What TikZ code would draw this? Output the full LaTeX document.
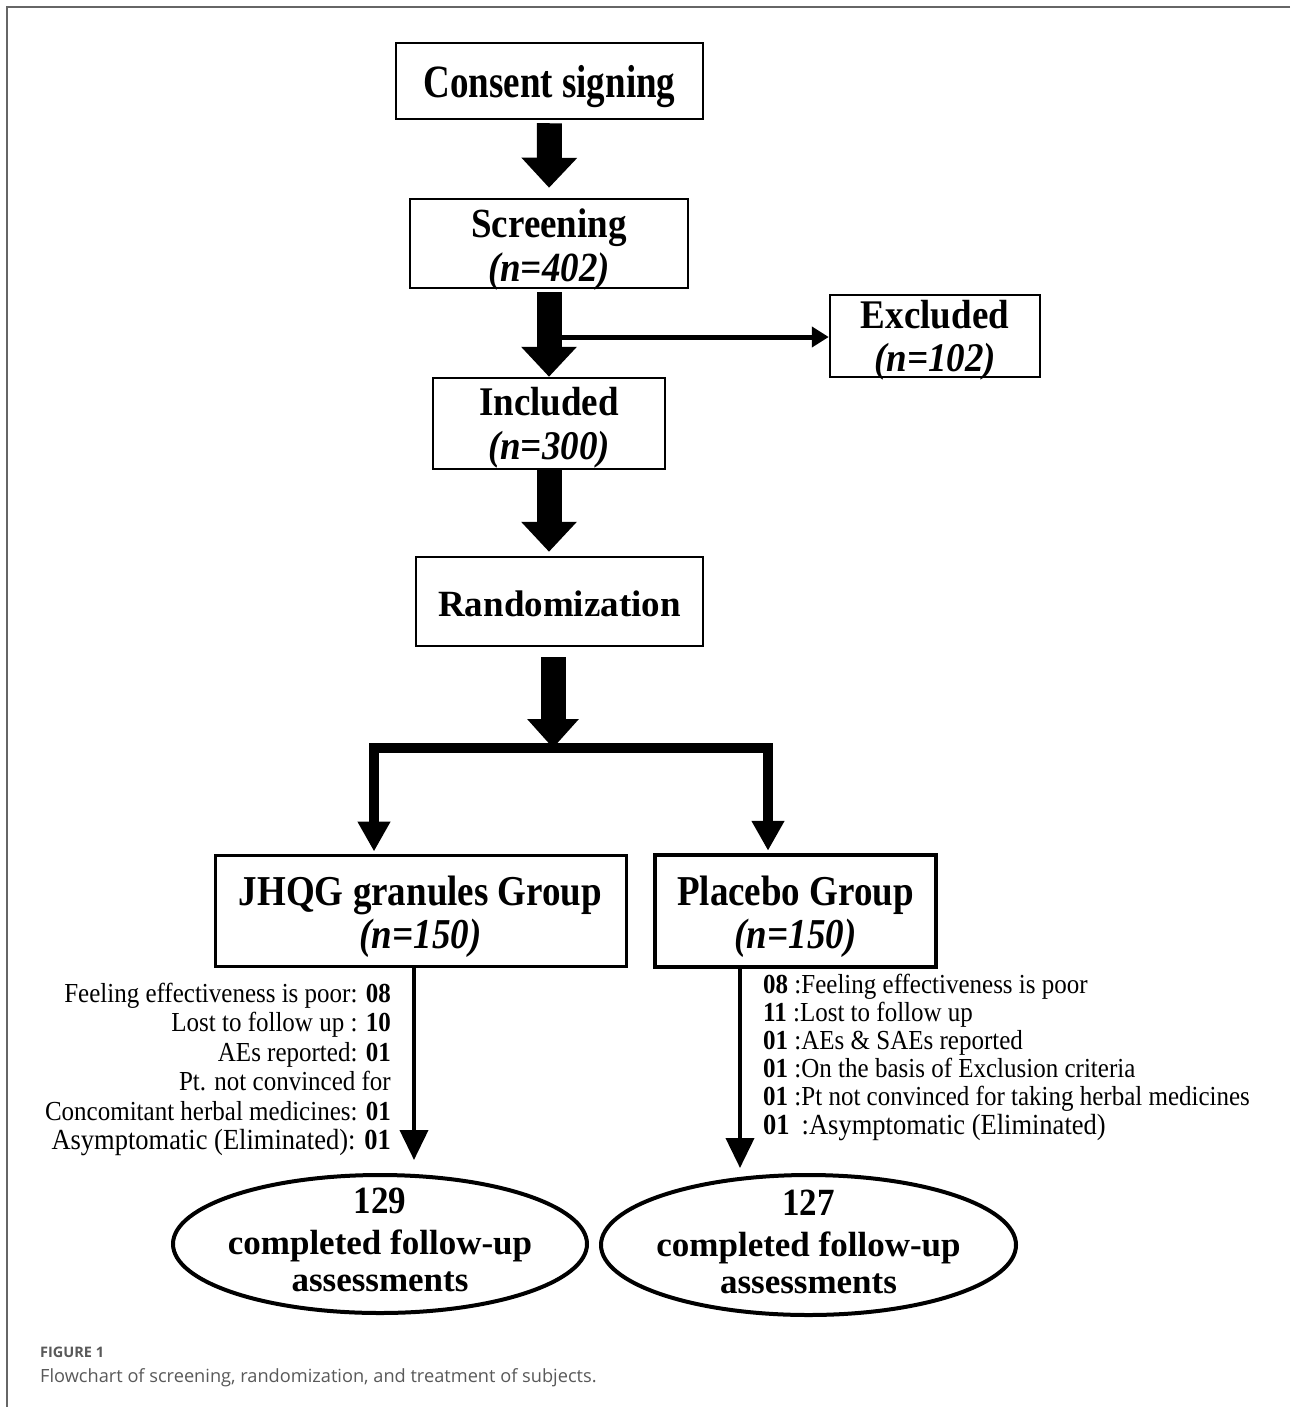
\documentclass[tikz,border=0pt]{standalone}
\usepackage{graphicx}
\usepackage{fontspec}
\setmainfont{Liberation Serif}
\newfontfamily\capfont{Open Sans}
\usetikzlibrary{arrows.meta,shapes.geometric,calc}
\newcommand{\vstretch}[2]{\scalebox{1}[#1]{#2}}
\begin{document}
\begin{tikzpicture}[x=1pt,y=-1pt,
  box/.style={draw, line width=2.5pt, inner sep=0pt},
  head/.style={anchor=base, inner sep=0pt, font=\fontsize{37}{44}\selectfont\bfseries},
  ntxt/.style={anchor=base, inner sep=0pt, font=\fontsize{37}{44}\selectfont\bfseries\itshape},
  etxt/.style={anchor=base, inner sep=0pt, font=\fontsize{35}{40}\selectfont\bfseries},
  ltxt/.style={anchor=base east, inner sep=0pt, font=\fontsize{25}{29}\selectfont},
  rtxt/.style={anchor=base west, inner sep=0pt, font=\fontsize{25}{29}\selectfont},
  oval/.style={draw, ellipse, line width=4pt, inner sep=0pt},
  fatarrow/.style={line width=25pt, -{Triangle[width=54pt,length=30pt]}},
  bararrow/.style={line width=10pt, line join=miter, -{Triangle[width=31pt,length=30pt]}},
  exarrow/.style={line width=5pt, -{Triangle[width=20pt,length=17pt]}},
  thinarrow/.style={line width=4pt, -{Triangle[width=28pt,length=30pt]}}
]
\useasboundingbox (0,0) rectangle (1290,1407);
\fill[white] (0,0) rectangle (1290,1407);
% frame
\draw[black!60, line width=2pt] (1290,7) -- (7,7) -- (7,1407);

% boxes
\node[box, minimum width=307pt, minimum height=76pt] (consent) at (549.5,81) {};
\node[head] (consent-t) at (549.5,98) {\vstretch{1.25}{Consent signing}};

\node[box, minimum width=278pt, minimum height=89pt] (screen) at (549,243.5) {};
\node[head] (screen-t1) at (549,237) {\vstretch{1.12}{Screening}};
\node[ntxt] (screen-t2) at (549,281) {\vstretch{1.12}{(n=402)}};

\node[box, minimum width=210pt, minimum height=82pt] (excluded) at (935,336) {};
\node[head] (excluded-t1) at (935,328) {\vstretch{1.1}{Excluded}};
\node[ntxt] (excluded-t2) at (935,371) {\vstretch{1.1}{(n=102)}};

\node[box, minimum width=232pt, minimum height=91pt] (included) at (549,423.5) {};
\node[head] (included-t1) at (549,415) {\vstretch{1.1}{Included}};
\node[ntxt] (included-t2) at (549,459) {\vstretch{1.1}{(n=300)}};

\node[box, minimum width=287pt, minimum height=89pt] (random) at (559.5,601.5) {};
\node[head] (random-t) at (559.5,616) {Randomization};

\node[box, line width=3pt, minimum width=411pt, minimum height=111pt] (jhqg) at (420.5,910.5) {};
\node[head] (jhqg-t1) at (420.5,905) {\vstretch{1.15}{JHQG granules Group}};
\node[ntxt] (jhqg-t2) at (420.5,948) {\vstretch{1.15}{(n=150)}};

\node[box, line width=4.5pt, minimum width=281pt, minimum height=112pt] (placebo) at (795.5,911) {};
\node[head] (placebo-t1) at (795.5,905) {\vstretch{1.15}{Placebo Group}};
\node[ntxt] (placebo-t2) at (795.5,948) {\vstretch{1.15}{(n=150)}};

% ovals
\node[oval, minimum width=414pt, minimum height=138pt] (endl) at (380,1244) {};
\node[etxt] (endl-t1) at (380,1213) {\vstretch{1.1}{129}};
\node[etxt] (endl-t2) at (380,1254) {completed follow-up};
\node[etxt] (endl-t3) at (380,1291) {assessments};

\node[oval, minimum width=415pt, minimum height=140pt] (endr) at (808.5,1245) {};
\node[etxt] (endr-t1) at (808.5,1215) {\vstretch{1.1}{127}};
\node[etxt] (endr-t2) at (808.5,1256) {completed follow-up};
\node[etxt] (endr-t3) at (808.5,1293) {assessments};

% main arrows
\draw[fatarrow, shorten <=3pt, shorten >=10pt] (consent.south) -- (screen.south |- screen.north);
\draw[fatarrow, shorten <=3pt] (screen.south) -- (included.north);
\draw[fatarrow, shorten >=4pt] (included.south) -- (random.north -| included.south);

% excluded branch
\coordinate (exs) at (562,337);
\draw[exarrow] (exs) -- (excluded.west |- exs);

% randomization split
\coordinate (split) at (553,748);
\coordinate (L) at (374,748);
\coordinate (R) at (768,748);
\draw[line width=25pt, -{Triangle[width=50pt,length=29pt]}, shorten <=10pt] (random.south -| split) -- (split);
\draw[bararrow, shorten >=2pt] (split) -| (L |- jhqg.north);
\draw[bararrow, shorten >=2pt] (split) -| (R |- placebo.north);

% withdrawal arrows
\coordinate (lt) at (414,1160);
\coordinate (rt) at (740,1168);
\draw[thinarrow] (jhqg.south -| lt) -- (lt);
\draw[thinarrow] (placebo.south -| rt) -- (rt);

% left reasons
\node[ltxt] (l1) at (391,1002) {\vstretch{1.1}{Feeling effectiveness is poor: \textbf{08}}};
\node[ltxt] (l2) at (391,1031.5) {\vstretch{1.1}{Lost to follow up : \textbf{10}}};
\node[ltxt] (l3) at (391,1061) {\vstretch{1.1}{AEs reported: \textbf{01}}};
\node[ltxt] (l4) at (391,1090.5) {\vstretch{1.1}{Pt. not convinced for}};
\node[ltxt] (l5) at (391,1120) {\vstretch{1.1}{Concomitant herbal medicines: \textbf{01}}};
\node[ltxt, font=\fontsize{26.5}{30}\selectfont] (l6) at (391,1149.5) {\vstretch{1.1}{Asymptomatic (Eliminated): \textbf{01}}};

% right reasons
\node[rtxt] (r1) at (763,993) {\vstretch{1.1}{\textbf{08} :Feeling effectiveness is poor}};
\node[rtxt] (r2) at (763,1021) {\vstretch{1.1}{\textbf{11} :Lost to follow up}};
\node[rtxt] (r3) at (763,1049) {\vstretch{1.1}{\textbf{01} :AEs \& SAEs reported}};
\node[rtxt] (r4) at (763,1077) {\vstretch{1.1}{\textbf{01} :On the basis of Exclusion criteria}};
\node[rtxt] (r5) at (763,1105) {\vstretch{1.1}{\textbf{01} :Pt not convinced for taking herbal medicines}};
\node[rtxt, font=\fontsize{26.5}{30}\selectfont] (r6) at (763,1134) {\vstretch{1.1}{\textbf{01}\hspace{12pt}:Asymptomatic (Eliminated)}};

% caption
\node[anchor=base west, inner sep=0pt, text=black!65, font=\capfont\bfseries\fontsize{14.5}{16}\selectfont] (figlabel) at (40,1357) {FIGURE 1};
\node[anchor=base west, inner sep=0pt, text=black!65, font=\capfont\fontsize{18.2}{21}\selectfont] (caption) at (40,1382) {Flowchart of screening, randomization, and treatment of subjects.};
\end{tikzpicture}
\end{document}
